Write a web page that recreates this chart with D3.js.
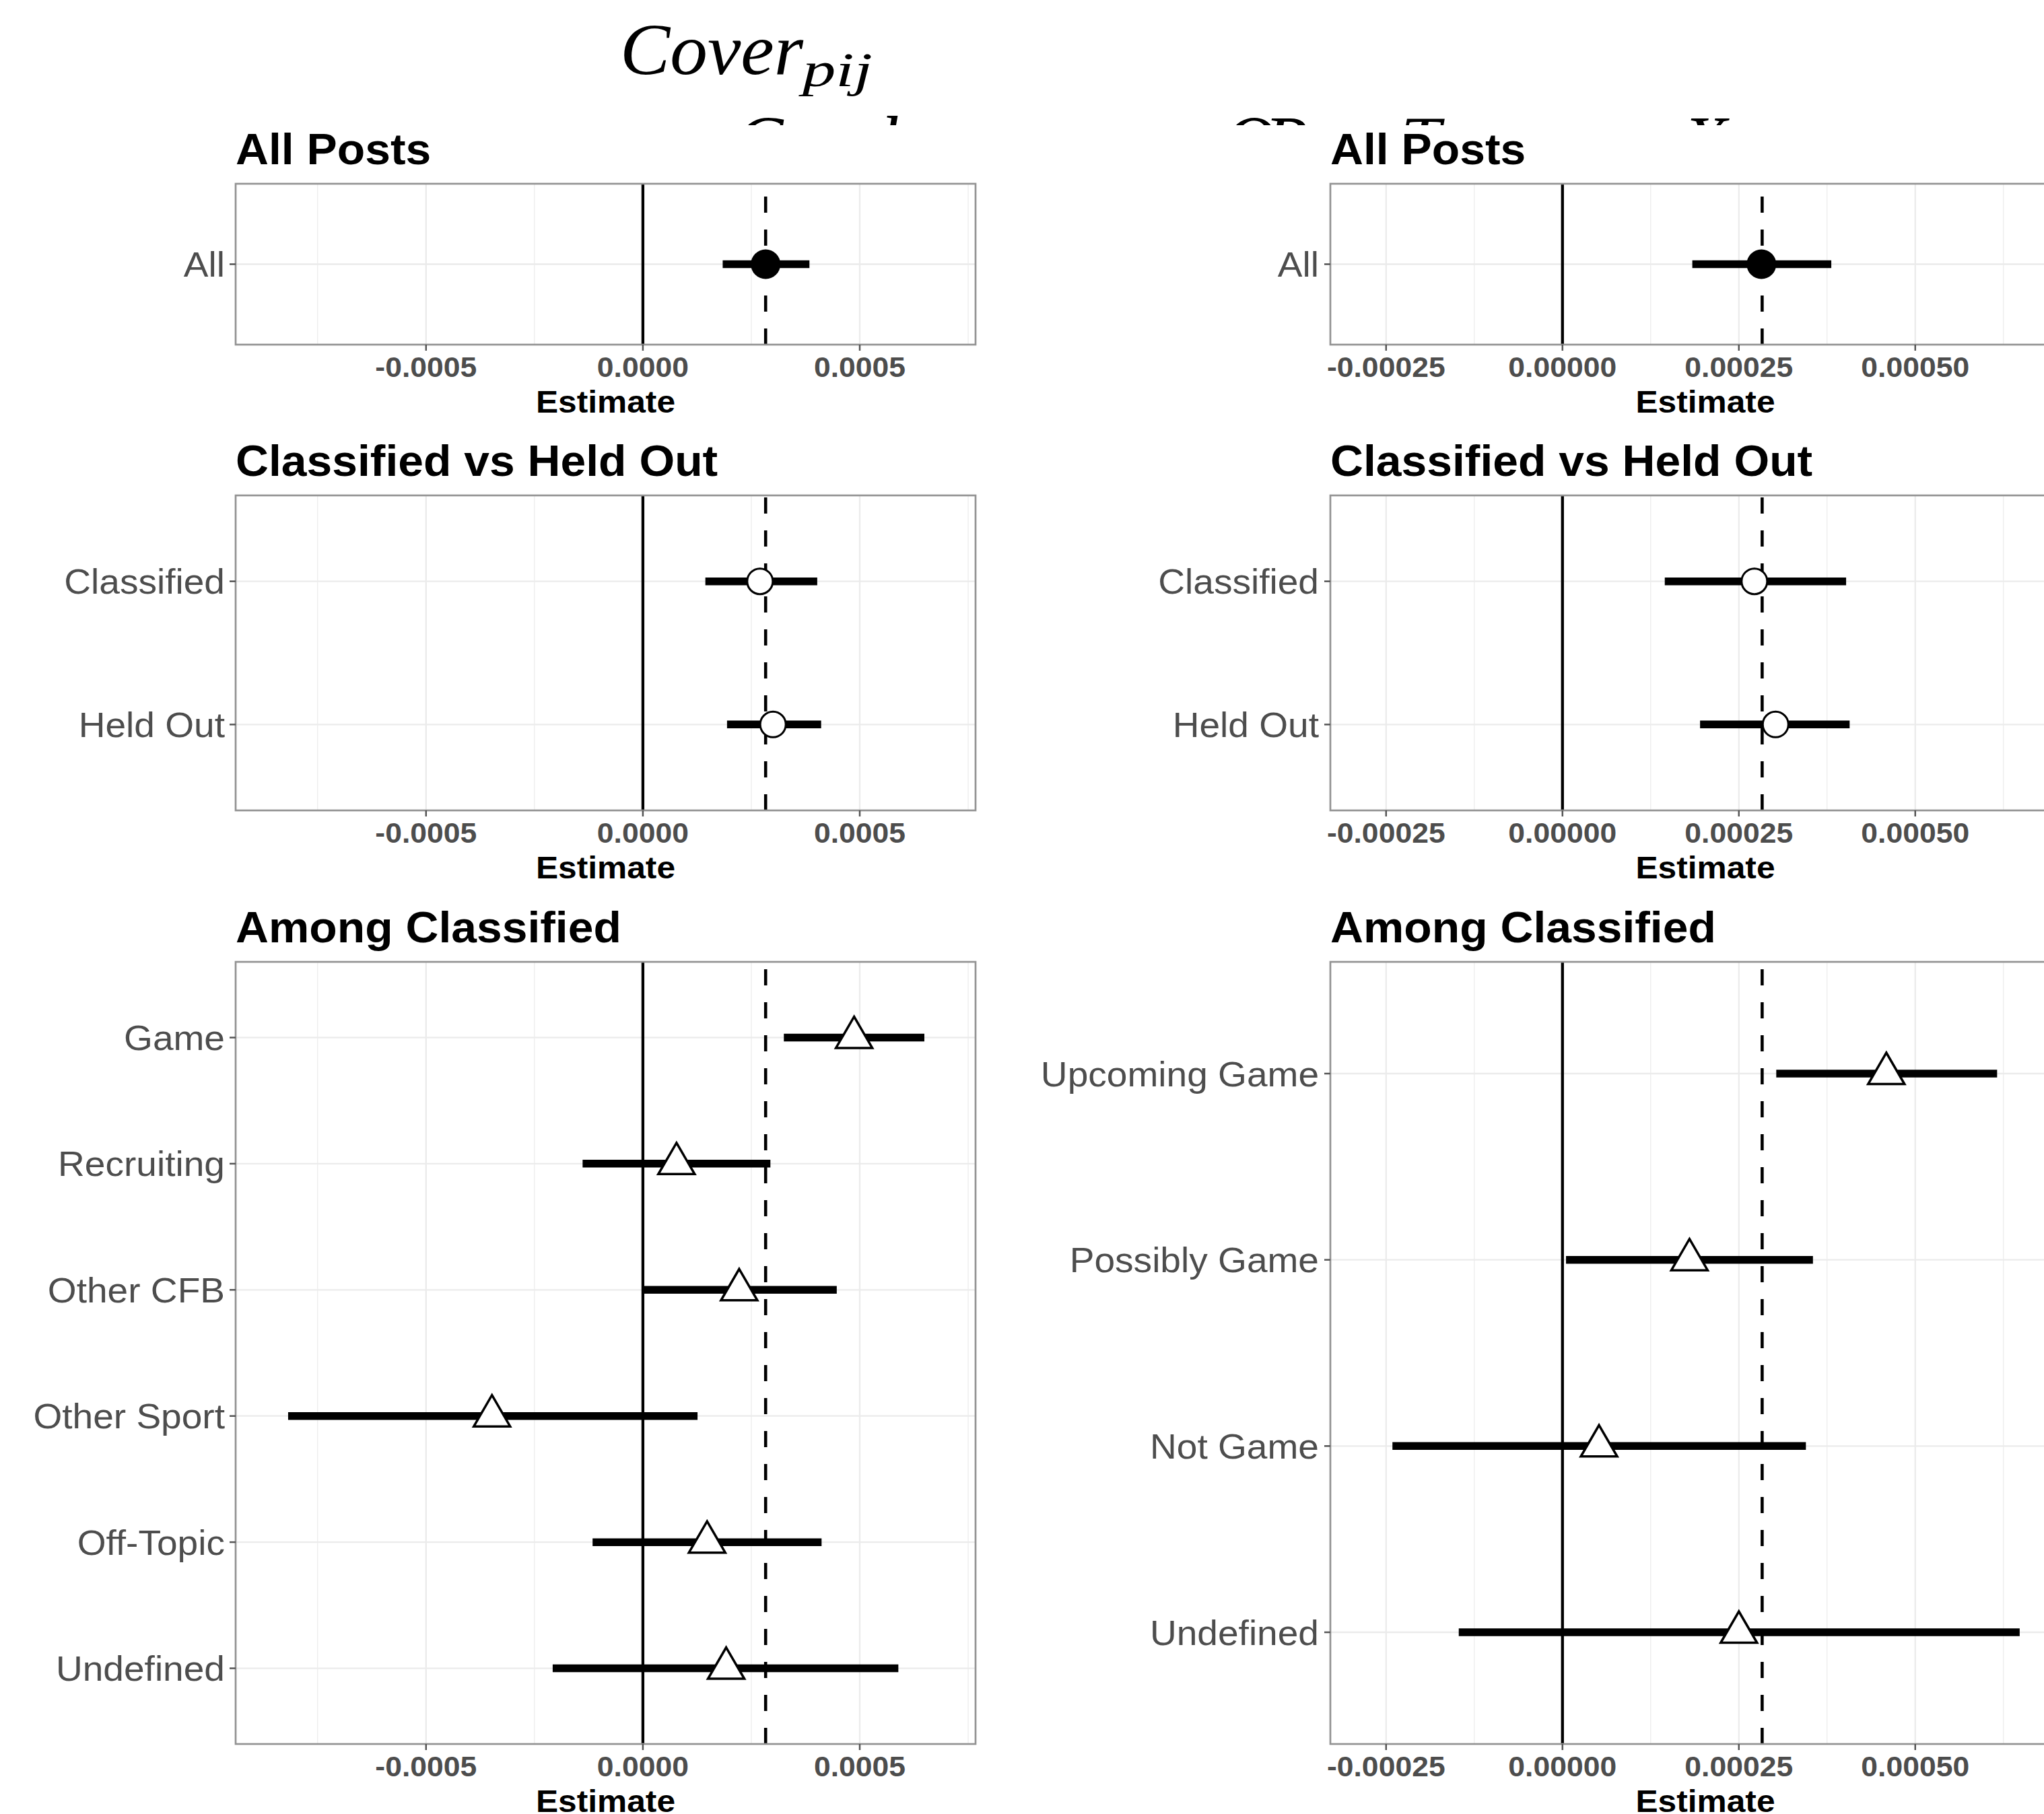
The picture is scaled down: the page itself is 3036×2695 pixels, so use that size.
<!DOCTYPE html>
<html><head><meta charset="utf-8">
<script src="https://cdn.jsdelivr.net/npm/d3@7"></script>
<style>html,body{margin:0;padding:0;background:#fff;overflow:hidden}</style>
</head><body><svg id="c" width="3036" height="2695"></svg>
<script>
// ---------------- data ----------------
const allCats = ["All"];
const heldCats = ["Classified", "Held Out"];
const leftTopicCats = ["Game", "Recruiting", "Other CFB", "Other Sport", "Off-Topic", "Undefined"];
const rightTopicCats = ["Upcoming Game", "Possibly Game", "Not Game", "Undefined"];

const leftAllEst = [0.000283], leftAllLo = [0.000184], leftAllHi = [0.000384];
const leftHeldEst = [0.000270, 0.000300], leftHeldLo = [0.000144, 0.000194], leftHeldHi = [0.000402, 0.000411];
const leftTopicEst = [0.000487, 0.0000775, 0.000222, -0.000348, 0.000148, 0.000192];
const leftTopicLo = [0.000325, -0.000139, -0.000002, -0.000818, -0.000116, -0.000208];
const leftTopicHi = [0.000649, 0.000294, 0.000447, 0.000126, 0.000412, 0.000589];

const rightAllEst = [0.000282], rightAllLo = [0.000184], rightAllHi = [0.000381];
const rightHeldEst = [0.000272, 0.000302], rightHeldLo = [0.000145, 0.000195], rightHeldHi = [0.000402, 0.000407];
const rightTopicEst = [0.000459, 0.000180, 0.0000518, 0.000250];
const rightTopicLo = [0.000303, 0.000005, -0.000241, -0.000147];
const rightTopicHi = [0.000616, 0.000355, 0.000345, 0.000648];

const leftRef = 0.000283, rightRef = 0.000283;
const leftTicks = [-0.0005, 0, 0.0005];
const leftTickLabels = ["-0.0005", "0.0000", "0.0005"];
const leftMinor = [-0.00075, -0.00025, 0.00025, 0.00075];
const rightTicks = [-0.00025, 0, 0.00025, 0.0005];
const rightTickLabels = ["-0.00025", "0.00000", "0.00025", "0.00050"];
const rightMinor = [-0.000125, 0.000125, 0.000375, 0.000625];
const leftDomain = [-0.000939, 0.000767], rightDomain = [-0.000329, 0.000734];
const panelTitles = ["All Posts", "Classified vs Held Out", "Among Classified"];
const axisTitle = "Estimate";

// ---------------- layout ----------------
const svg = d3.select("#c");
const SANS = "'Liberation Sans', Arial, Helvetica, sans-serif";
const SERIF = "'Liberation Serif', 'DejaVu Serif', serif";

function txt(g, x, y, s, o) {
  return g.append("text")
    .attr("transform", `translate(${x},${y}) scale(${o.sx || 1},1)`)
    .attr("text-anchor", o.anchor || "start")
    .attr("font-family", o.family || SANS)
    .attr("font-size", o.size)
    .attr("font-weight", o.weight || "normal")
    .attr("font-style", o.style || "normal")
    .attr("fill", o.fill || "#000")
    .text(s);
}

const cols = [
  { x0: 350, x1: 1449, labelEnd: 334, domain: leftDomain, ticks: leftTicks, tickLabels: leftTickLabels, minor: leftMinor, ref: leftRef,
    panels: [
      { cats: allCats, est: leftAllEst, lo: leftAllLo, hi: leftAllHi },
      { cats: heldCats, est: leftHeldEst, lo: leftHeldLo, hi: leftHeldHi },
      { cats: leftTopicCats, est: leftTopicEst, lo: leftTopicLo, hi: leftTopicHi }
    ] },
  { x0: 1976, x1: 3090, labelEnd: 1959, domain: rightDomain, ticks: rightTicks, tickLabels: rightTickLabels, minor: rightMinor, ref: rightRef,
    panels: [
      { cats: allCats, est: rightAllEst, lo: rightAllLo, hi: rightAllHi },
      { cats: heldCats, est: rightHeldEst, lo: rightHeldLo, hi: rightHeldHi },
      { cats: rightTopicCats, est: rightTopicEst, lo: rightTopicLo, hi: rightTopicHi }
    ] }
];
const rows = [{ y0: 273, y1: 512 }, { y0: 736, y1: 1204 }, { y0: 1429, y1: 2591 }];

// ---------------- header equation (partially hidden) ----------------
const clip = svg.append("defs").append("clipPath").attr("id", "hdrclip");
clip.append("rect").attr("x", 0).attr("y", 0).attr("width", 3036).attr("height", 186);
const hdr = svg.append("g");
hdr.append("text").attr("x", 921).attr("y", 110).attr("font-family", SERIF).attr("font-style", "italic")
  .attr("font-size", 107).attr("textLength", 272).attr("lengthAdjust", "spacingAndGlyphs").text("Cover");
hdr.append("text").attr("x", 1192).attr("y", 128).attr("font-family", SERIF).attr("font-style", "italic")
  .attr("font-size", 72).attr("textLength", 104).attr("lengthAdjust", "spacingAndGlyphs").text("pij");
const hidden = svg.append("g").attr("clip-path", "url(#hdrclip)");
const frag = [["C", 1092], ["l", 1306], ["O", 1818], ["P", 1878], ["T", 2080], ["t", 2424], ["X", 2500]];
frag.forEach(([s, x]) => hidden.append("text").attr("x", x).attr("y", 247).attr("font-family", SERIF)
  .attr("font-style", "italic").attr("font-size", 107).text(s));

// ---------------- panels ----------------
const triPath = "M0,-31L27,15.5L-27,15.5Z";

cols.forEach(col => {
  const x = d3.scaleLinear().domain(col.domain).range([col.x0, col.x1]);
  col.panels.forEach((p, ri) => {
    const r = rows[ri];
    const y = d3.scalePoint().domain(p.cats).range([r.y0, r.y1]).padding(0.6);
    const g = svg.append("g");

    // title
    txt(g, col.x0, r.y0 - 29, panelTitles[ri], { size: 64, weight: "bold", sx: 1.06 });

    // background
    g.append("rect").attr("x", col.x0).attr("y", r.y0).attr("width", col.x1 - col.x0).attr("height", r.y1 - r.y0)
      .attr("fill", "#fff");

    // grid
    g.selectAll(".mn").data(col.minor).join("line")
      .attr("x1", d => x(d)).attr("x2", d => x(d)).attr("y1", r.y0).attr("y2", r.y1)
      .attr("stroke", "#ebebeb").attr("stroke-width", 1.2);
    g.selectAll(".mj").data(col.ticks).join("line")
      .attr("x1", d => x(d)).attr("x2", d => x(d)).attr("y1", r.y0).attr("y2", r.y1)
      .attr("stroke", "#ebebeb").attr("stroke-width", 2.3);
    g.selectAll(".hg").data(p.cats).join("line")
      .attr("x1", col.x0).attr("x2", col.x1).attr("y1", d => y(d)).attr("y2", d => y(d))
      .attr("stroke", "#ebebeb").attr("stroke-width", 2.3);

    // reference lines
    g.append("line").attr("x1", x(0)).attr("x2", x(0)).attr("y1", r.y0).attr("y2", r.y1)
      .attr("stroke", "#000").attr("stroke-width", 4.3);
    g.append("line").attr("x1", x(col.ref)).attr("x2", x(col.ref)).attr("y1", r.y1).attr("y2", r.y0)
      .attr("stroke", "#000").attr("stroke-width", 4.6).attr("stroke-dasharray", "24,25");

    // CIs
    p.cats.forEach((c, i) => {
      g.append("line").attr("x1", x(p.lo[i])).attr("x2", x(p.hi[i])).attr("y1", y(c)).attr("y2", y(c))
        .attr("stroke", "#000").attr("stroke-width", 11.5);
    });
    // points
    p.cats.forEach((c, i) => {
      const cx = x(p.est[i]), cy = y(c);
      if (ri === 0) {
        g.append("circle").attr("cx", cx).attr("cy", cy).attr("r", 22).attr("fill", "#000");
      } else if (ri === 1) {
        g.append("circle").attr("cx", cx).attr("cy", cy).attr("r", 19).attr("fill", "#fff")
          .attr("stroke", "#000").attr("stroke-width", 3);
      } else {
        g.append("path").attr("d", triPath).attr("transform", `translate(${cx},${cy})`)
          .attr("fill", "#fff").attr("stroke", "#000").attr("stroke-width", 3.5).attr("stroke-linejoin", "miter");
      }
    });

    // border
    g.append("rect").attr("x", col.x0).attr("y", r.y0).attr("width", col.x1 - col.x0).attr("height", r.y1 - r.y0)
      .attr("fill", "none").attr("stroke", "#939393").attr("stroke-width", 2.7);

    // x axis ticks + labels
    col.ticks.forEach((t, i) => {
      g.append("line").attr("x1", x(t)).attr("x2", x(t)).attr("y1", r.y1).attr("y2", r.y1 + 9)
        .attr("stroke", "#555").attr("stroke-width", 2.5);
      txt(g, x(t), r.y1 + 48, col.tickLabels[i], { size: 42, weight: "bold", fill: "#4d4d4d", anchor: "middle", sx: 1.06 });
    });
    txt(g, (col.x0 + col.x1) / 2, r.y1 + 101, axisTitle, { size: 46, weight: "bold", anchor: "middle", sx: 1.08 });

    // y axis ticks + labels
    p.cats.forEach(c => {
      g.append("line").attr("x1", col.x0 - 9).attr("x2", col.x0).attr("y1", y(c)).attr("y2", y(c))
        .attr("stroke", "#555").attr("stroke-width", 2.5);
      txt(g, col.labelEnd, y(c) + 18.5, c, { size: 51, fill: "#4d4d4d", anchor: "end", sx: 1.08 });
    });
  });
});
</script></body></html>
